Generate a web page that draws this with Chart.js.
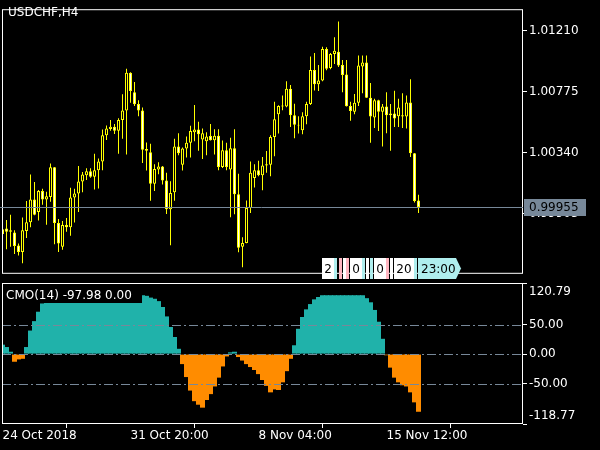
<!DOCTYPE html>
<html>
<head>
<meta charset="utf-8">
<script src="https://cdn.jsdelivr.net/npm/chart.js@4.4.0/dist/chart.umd.min.js"></script>
<style>
  html, body { margin: 0; padding: 0; background: #000; }
  #wrap { position: relative; width: 600px; height: 450px; background: #000; overflow: hidden; }
  canvas { position: absolute; left: 0; }
</style>
</head>
<body>
<div id="wrap">
  <canvas id="priceCanvas" width="600" height="283" style="top:0"></canvas>
  <canvas id="cmoCanvas" width="600" height="167" style="top:283px"></canvas>
</div>
<script>
// ---- data (USDCHF H4, one entry per bar) ----
const symbolTitle = 'USDCHF,H4';
const opens = [
  0.99761, 0.99801, 0.99788, 0.99772, 0.99680, 0.99633, 0.99783, 0.99846, 1.00008, 0.99918,
  1.00069, 1.00008, 1.00026, 1.00237, 0.99840, 0.99671, 0.99826, 0.99810, 1.00022, 1.00051,
  1.00136, 1.00181, 1.00210, 1.00170, 1.00217, 1.00278, 1.00466, 1.00511, 1.00527, 1.00498,
  1.00574, 1.00642, 1.00911, 1.00772, 1.00689, 1.00642, 1.00368, 1.00345, 1.00120, 1.00222,
  1.00244, 1.00143, 0.99938, 1.00060, 1.00386, 1.00255, 1.00372, 1.00412, 1.00487, 1.00507,
  1.00435, 1.00424, 1.00460, 1.00430, 1.00462, 1.00239, 1.00359, 1.00222, 1.00374, 1.00046,
  0.99671, 0.99698, 0.99947, 1.00161, 1.00217, 1.00181, 1.00251, 1.00255, 1.00453, 1.00615,
  1.00671, 1.00671, 1.00797, 1.00608, 1.00541, 1.00502, 1.00601, 1.00689, 1.00931, 1.00830,
  1.00857, 1.01082, 1.00945, 1.01046, 1.01062, 1.00967, 1.00900, 1.00675, 1.00633, 1.00698,
  1.00956, 1.00985, 1.00734, 1.00592, 1.00716, 1.00633, 1.00671, 1.00608, 1.00621, 1.00601,
  1.00608, 1.00599, 1.00700, 1.00338, 1.00001
];
const highs = [
  0.99806, 0.99862, 0.99900, 0.99788, 0.99694, 0.99880, 0.99997, 1.00186, 1.00132, 1.00075,
  1.00084, 1.00064, 1.00264, 1.00240, 0.99869, 0.99855, 0.99876, 1.00091, 1.00084, 1.00246,
  1.00204, 1.00230, 1.00230, 1.00334, 1.00300, 1.00507, 1.00536, 1.00574, 1.00547, 1.00588,
  1.00758, 1.00940, 1.00915, 1.00846, 1.00716, 1.00664, 1.00415, 1.00406, 1.00260, 1.00273,
  1.00246, 1.00199, 1.00138, 1.00442, 1.00480, 1.00379, 1.00457, 1.00534, 1.00682, 1.00563,
  1.00514, 1.00487, 1.00547, 1.00509, 1.00509, 1.00428, 1.00412, 1.00448, 1.00509, 1.00192,
  0.99738, 1.00001, 1.00278, 1.00260, 1.00284, 1.00311, 1.00354, 1.00466, 1.00705, 1.00680,
  1.00749, 1.00851, 1.00824, 1.00691, 1.00601, 1.00630, 1.00705, 1.01028, 1.01053, 1.00967,
  1.01098, 1.01093, 1.01053, 1.01165, 1.01277, 1.01003, 1.01003, 1.00705, 1.00761, 1.01035,
  1.01035, 1.01035, 1.00839, 1.00727, 1.00720, 1.00689, 1.00772, 1.00689, 1.00783, 1.00727,
  1.00765, 1.00749, 1.00866, 1.00340, 1.00042
];
const lows = [
  0.99723, 0.99653, 0.99671, 0.99619, 0.99608, 0.99554, 0.99734, 0.99810, 0.99896, 0.99858,
  0.99970, 0.99828, 0.99992, 0.99689, 0.99633, 0.99649, 0.99777, 0.99750, 0.99844, 0.99918,
  1.00060, 1.00147, 1.00163, 1.00080, 1.00087, 1.00217, 1.00433, 1.00498, 1.00475, 1.00334,
  1.00442, 1.00329, 1.00698, 1.00675, 1.00601, 1.00269, 1.00215, 0.99999, 1.00069, 1.00188,
  1.00114, 0.99905, 0.99682, 0.99999, 1.00323, 1.00215, 1.00307, 1.00307, 1.00424, 1.00356,
  1.00296, 1.00323, 1.00428, 1.00329, 1.00217, 1.00233, 1.00217, 0.99882, 0.99902, 0.99631,
  0.99525, 0.99695, 0.99911, 1.00093, 1.00174, 1.00073, 1.00199, 1.00174, 1.00316, 1.00478,
  1.00644, 1.00666, 1.00525, 1.00444, 1.00478, 1.00473, 1.00545, 1.00682, 1.00785, 1.00781,
  1.00851, 1.00929, 1.00936, 1.00974, 1.00952, 1.00772, 1.00671, 1.00570, 1.00615, 1.00675,
  1.00765, 1.00731, 1.00412, 1.00518, 1.00496, 1.00386, 1.00480, 1.00356, 1.00525, 1.00525,
  1.00518, 1.00514, 1.00311, 0.99986, 0.99911
];
const closes = [
  0.99795, 0.99777, 0.99777, 0.99676, 0.99633, 0.99788, 0.99846, 1.00008, 0.99900, 1.00069,
  1.00008, 1.00031, 1.00237, 0.99840, 0.99694, 0.99826, 0.99810, 1.00022, 1.00051, 1.00136,
  1.00186, 1.00210, 1.00170, 1.00217, 1.00278, 1.00466, 1.00514, 1.00527, 1.00498, 1.00574,
  1.00642, 1.00911, 1.00781, 1.00687, 1.00642, 1.00363, 1.00356, 1.00120, 1.00226, 1.00244,
  1.00143, 0.99938, 1.00055, 1.00386, 1.00338, 1.00372, 1.00412, 1.00496, 1.00507, 1.00473,
  1.00480, 1.00457, 1.00430, 1.00462, 1.00239, 1.00359, 1.00239, 1.00374, 1.00046, 0.99664,
  0.99698, 0.99947, 1.00199, 1.00217, 1.00181, 1.00251, 1.00260, 1.00453, 1.00581, 1.00675,
  1.00678, 1.00797, 1.00608, 1.00541, 1.00536, 1.00601, 1.00689, 1.00931, 1.00830, 1.00857,
  1.01082, 1.00940, 1.01046, 1.01069, 1.00963, 1.00896, 1.00673, 1.00639, 1.00698, 1.00963,
  1.00985, 1.00734, 1.00599, 1.00716, 1.00633, 1.00671, 1.00608, 1.00621, 1.00585, 1.00664,
  1.00599, 1.00700, 1.00338, 0.99997, 0.99955
];
// CMO(14) histogram, one value per bar
const cmoValues = [
  16, 12, 4, -13, -9, -8, 12, 40, 56, 72,
  86, 97, 100, 100, 100, 100, 100, 100, 100, 100,
  100, 100, 100, 100, 100, 100, 100, 100, 100, 100,
  100, 100, 100, 100, 100, 100, 99, 96, 94, 90,
  80, 64, 46, 29, 9, -17, -39, -62, -80, -86,
  -91, -78, -68, -55, -40, -21, -4, 3, 4, -5,
  -11, -17, -22, -27, -34, -44, -54, -65, -60, -61,
  -48, -29, -8, 15, 43, 63, 76, 85, 93, 97,
  100, 100, 100, 100, 100, 100, 100, 100, 100, 100,
  100, 95, 88, 75, 55, 26, -2, -23, -40, -48,
  -53, -55, -65, -82, -97.98
];
const cmoLabel = 'CMO(14) -97.98 0.00';
const cmoLevels = [50, 0, -50];
const cmoTicks = [120.79, 50, 0, -50, -118.77];
const priceTicks = [1.01210, 1.00775, 1.00340, 0.99905];
const bidPrice = 0.99955;
const timeTickBars = [0, 32, 64, 96];
const timeTickLabels = ['24 Oct 2018', '31 Oct 20:00', '8 Nov 04:00', '15 Nov 12:00'];
const timerParts = ['2', '0', '0', '20'];
const timerLabel = '23:00';

// ---- shared look ----
const FONT = { family: 'DejaVu Sans', size: 12 };
const FONT_CSS = '12px "DejaVu Sans"';
const YELLOW = '#ffff00';
const SLATE = '#778899';
const X_MIN = -0.125, X_MAX = 130.125;

const frame = {
  id: 'frame',
  beforeDraw(chart) {
    const c = chart.ctx;
    c.save();
    c.fillStyle = '#000';
    c.fillRect(0, 0, chart.width, chart.height);
    c.restore();
  },
  afterDraw(chart) {
    const a = chart.chartArea, c = chart.ctx;
    c.save();
    c.strokeStyle = '#fff';
    c.lineWidth = 1;
    c.strokeRect(a.left + 0.5, a.top + 0.5, a.right - a.left - 1, a.bottom - a.top - 1);
    c.restore();
  }
};

// ---- price panel ----
const pricePanel = {
  id: 'pricePanel',
  afterDraw(chart) {
    const c = chart.ctx, a = chart.chartArea, y = chart.scales.y;
    c.save();
    c.font = FONT_CSS;
    c.fillStyle = '#fff';
    c.textBaseline = 'middle';
    c.fillText(symbolTitle, 8, 13);

    // bid line + label
    const by = Math.round(y.getPixelForValue(bidPrice)) + 0.5;
    c.strokeStyle = SLATE;
    c.beginPath();
    c.moveTo(0, by);
    c.lineTo(a.right, by);
    c.stroke();
    c.fillStyle = SLATE;
    c.fillRect(a.right + 1, by - 8.5, 62, 17);
    c.fillStyle = '#000';
    c.fillText(bidPrice.toFixed(5), a.right + 6, by);

    // bar timer boxes
    const ty = 258, th = 21;
    const boxes = [[322, 12], [350, 12], [374, 12], [394, 20]];
    const strips = [[334, '#aeeeee'], [339, '#ffb6c1'], [343, '#ffffff'], [346, '#ffb6c1'],
                    [362, '#aeeeee'], [366, '#ffffff'], [370, '#aeeeee'],
                    [386, '#ffb6c1'], [390, '#ffffff'], [414, '#aeeeee']];
    strips.forEach(([sx, col]) => {
      c.fillStyle = col;
      c.fillRect(sx, ty, 3, th);
    });
    c.textAlign = 'center';
    boxes.forEach(([bx, bw], i) => {
      c.fillStyle = '#fff';
      c.fillRect(bx, ty, bw, th);
      c.fillStyle = '#000';
      c.fillText(timerParts[i], bx + bw / 2, ty + th / 2 + 1);
    });
    c.fillStyle = '#afeeee';
    c.beginPath();
    c.moveTo(418, ty);
    c.lineTo(456, ty);
    c.lineTo(461, ty + th / 2);
    c.lineTo(456, ty + th);
    c.lineTo(418, ty + th);
    c.closePath();
    c.fill();
    c.fillStyle = '#000';
    c.textAlign = 'left';
    c.fillText(timerLabel, 421, ty + th / 2 + 1);
    c.restore();
  }
};

const barIdx = opens.map((o, i) => i);

new Chart(document.getElementById('priceCanvas'), {
  type: 'bar',
  data: {
    datasets: [
      {
        // candle bodies (drawn on top)
        data: barIdx.map(i => ({ x: i, y: [opens[i], closes[i]] })),
        barThickness: 3,
        grouped: false,
        borderWidth: 1,
        borderSkipped: false,
        inflateAmount: 0,
        borderColor: YELLOW,
        backgroundColor: ctx => closes[ctx.dataIndex] >= opens[ctx.dataIndex] ? '#000' : '#fff'
      },
      {
        // wicks
        data: barIdx.map(i => ({ x: i, y: [lows[i], highs[i]] })),
        barThickness: 1,
        grouped: false,
        borderWidth: 0,
        inflateAmount: 0,
        backgroundColor: YELLOW
      }
    ]
  },
  options: {
    responsive: false,
    animation: false,
    events: [],
    layout: { padding: { left: 2, top: 2, right: 0, bottom: 1 } },
    plugins: { legend: { display: false }, tooltip: { enabled: false } },
    scales: {
      x: { type: 'linear', min: X_MIN, max: X_MAX, offset: false, display: false },
      y: {
        position: 'right',
        min: 0.99478,
        max: 1.01365,
        afterBuildTicks: s => { s.ticks = priceTicks.map(v => ({ value: v })); },
        afterFit: s => { s.width = 77; },
        grid: { drawOnChartArea: false, color: '#fff', tickLength: 4 },
        border: { display: false },
        ticks: { color: '#fff', font: FONT, padding: 2, callback: v => v.toFixed(5) }
      }
    }
  },
  plugins: [frame, pricePanel]
});

// ---- CMO panel ----
const cmoPanel = {
  id: 'cmoPanel',
  afterDatasetsDraw(chart) {
    const c = chart.ctx, a = chart.chartArea, y = chart.scales.y;
    c.save();
    c.strokeStyle = SLATE;
    c.lineWidth = 1;
    c.setLineDash([9, 3, 2, 3]);
    cmoLevels.forEach(v => {
      const ly = Math.round(y.getPixelForValue(v)) + 0.5;
      c.beginPath();
      c.moveTo(a.left, ly);
      c.lineTo(a.right, ly);
      c.stroke();
    });
    c.setLineDash([]);
    c.fillStyle = '#000';
    c.fillRect(a.left + 1, a.top + 1, 139, 19);
    c.font = FONT_CSS;
    c.fillStyle = '#fff';
    c.textBaseline = 'middle';
    c.fillText(cmoLabel, 6, 13);

    // right axis labels (top/bottom kept inside panel, MT4 style)
    cmoTicks.forEach(v => {
      let py = y.getPixelForValue(v);
      py = Math.min(Math.max(py, a.top + 9), a.bottom - 8);
      c.fillText(v.toFixed(2), a.right + 6, py);
    });
    c.restore();
  }
};

new Chart(document.getElementById('cmoCanvas'), {
  type: 'bar',
  data: {
    datasets: [{
      data: barIdx.map(i => ({ x: i, y: cmoValues[i] })),
      barThickness: 5,
      borderWidth: 0,
      inflateAmount: 0,
      backgroundColor: ctx => cmoValues[ctx.dataIndex] >= 0 ? '#20b2aa' : '#ff8c00'
    }]
  },
  options: {
    responsive: false,
    animation: false,
    events: [],
    layout: { padding: { left: 2, top: 0, right: 0, bottom: 0 } },
    plugins: { legend: { display: false }, tooltip: { enabled: false } },
    scales: {
      x: {
        type: 'linear', min: X_MIN, max: X_MAX, offset: false, position: 'bottom',
        afterBuildTicks: s => { s.ticks = timeTickBars.map(v => ({ value: v })); },
        afterFit: s => { s.height = 26; },
        grid: { drawOnChartArea: false, color: '#fff', tickLength: 4 },
        border: { display: false },
        ticks: {
          color: '#fff', font: FONT, padding: 1, align: 'start', maxRotation: 0, autoSkip: false,
          callback: v => timeTickLabels[timeTickBars.indexOf(v)]
        }
      },
      y: {
        position: 'right', min: -118.77, max: 120.79,
        afterBuildTicks: s => { s.ticks = cmoTicks.map(v => ({ value: v })); },
        afterFit: s => { s.width = 77; },
        grid: { drawOnChartArea: false, color: '#fff', tickLength: 4 },
        border: { display: false },
        ticks: { display: false }
      }
    }
  },
  plugins: [frame, cmoPanel]
});
</script>
</body>
</html>
